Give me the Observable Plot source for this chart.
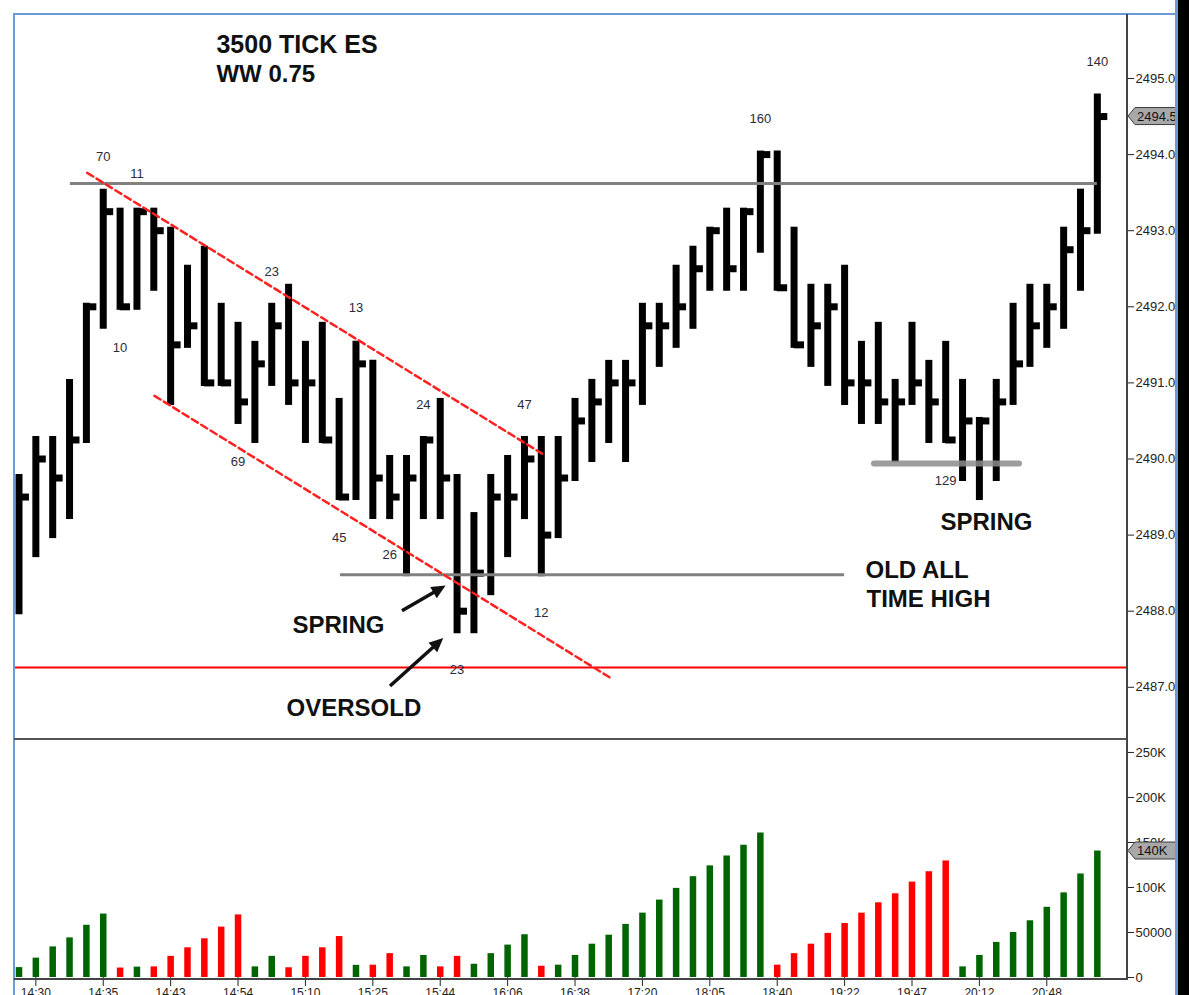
<!DOCTYPE html>
<html><head><meta charset="utf-8">
<script src="https://cdn.jsdelivr.net/npm/d3@7"></script>
<script src="https://cdn.jsdelivr.net/npm/@observablehq/plot@0.6"></script>
<style>
html,body{margin:0;background:#fff;overflow:hidden;}
#wrap{position:relative;width:1189px;height:995px;overflow:hidden;background:#fff;font-family:"Liberation Sans",Arial,sans-serif;}
#wrap svg{position:absolute;left:0;}
.ln{position:absolute;z-index:5;}
</style></head><body><div id="wrap"></div>
<script>
// ---- data (3500 tick ES bars: high / low / close) ----
const high = [2489.75,2490.25,2490.25,2491.0,2492.0,2493.5,2493.25,2493.25,2493.25,2493.0,
  2492.5,2492.75,2492.0,2491.75,2491.5,2492.0,2492.25,2491.5,2491.75,2490.75,
  2491.5,2491.25,2490.0,2490.0,2490.25,2490.75,2489.75,2489.25,2489.75,2490.0,
  2490.25,2490.25,2490.25,2490.75,2491.0,2491.25,2491.25,2492.0,2492.0,2492.5,
  2492.75,2493.0,2493.25,2493.25,2494.0,2494.0,2493.0,2492.25,2492.25,2492.5,
  2491.5,2491.75,2491.0,2491.75,2491.25,2491.5,2491.0,2490.5,2491.0,2492.0,
  2492.25,2492.25,2493.0,2493.5,2494.75];
const low = [2488.0,2488.75,2489.0,2489.25,2490.25,2491.75,2492.0,2492.0,2492.25,2490.75,
  2491.5,2491.0,2491.0,2490.5,2490.25,2491.0,2490.75,2490.25,2490.25,2489.5,
  2489.5,2489.25,2489.25,2488.5,2489.25,2489.25,2487.75,2487.75,2488.25,2488.75,
  2489.25,2488.5,2489.0,2489.75,2490.0,2490.25,2490.0,2490.75,2491.25,2491.5,
  2491.75,2492.25,2492.25,2492.25,2492.75,2492.25,2491.5,2491.25,2491.0,2490.75,
  2490.5,2490.5,2490.0,2490.75,2490.25,2490.25,2489.75,2489.5,2489.75,2490.75,
  2491.25,2491.5,2491.75,2492.25,2493.0];
const close = [2489.5,2490.0,2489.75,2490.25,2492.0,2493.25,2492.0,2493.25,2493.0,2491.5,
  2491.75,2491.0,2491.0,2490.75,2491.25,2491.75,2491.0,2491.0,2490.25,2489.5,
  2491.25,2489.75,2489.5,2489.75,2490.25,2489.75,2488.0,2488.5,2489.5,2489.5,
  2490.0,2489.0,2489.75,2490.5,2490.75,2491.0,2491.0,2491.75,2491.75,2492.0,
  2492.5,2493.0,2492.5,2493.25,2494.0,2492.25,2491.5,2491.75,2492.0,2491.0,
  2491.0,2490.75,2490.75,2491.0,2490.75,2490.25,2490.5,2490.5,2490.75,2491.25,
  2491.75,2492.0,2492.75,2493.0,2494.5];
// cumulative wave volume, thousands
const waveVolumeK = [11,21.5,34,44,58,70.5,10.5,11.5,11.8,23.5,
  33,43,56,69.5,11.8,23.5,10.8,23.5,33,45.5,
  13.5,13.7,26.5,11.8,24.5,11.8,23.5,14.7,26.5,36,
  47.5,12.5,13.7,24.5,37,47,59,71.5,86,99,
  112,124,135,147,160.5,13.7,26.5,37,49,60,
  71.5,83,93,106,117.5,129.5,11.8,24.5,39,50,
  63,78,94,115,140.5];
// wave direction per bar (U = up wave, D = down wave)
const waveDir = [..."UUUUUUDUDDDDDDUUDDDDUDDUUDDUUUUDUUUUUUUUUUUUUDDDDDDDDDDDUUUUUUUUU"];

const priceTicks = [2487,2488,2489,2490,2491,2492,2493,2494,2495];
const volTicks = [0,50000,100000,150000,200000,250000];
const volTickLabels = ["0","50000","100K","150K","200K","250K"];
const timeTickBars = [1,5,9,13,17,21,25,29,33,37,41,45,49,53,57,61];
const timeLabels = ["14:30","14:35","14:43","14:54","15:10","15:25","15:44","16:06","16:38","17:20","18:05","18:40","19:22","19:47","20:12","20:48"];

// wave volume labels (bar index, price position, text)
const waveLabelBar = [5,7,6,15,20,13,19,22,24,30,31,26,44,64,55];
const waveLabelPrice = [2493.92,2493.69,2491.41,2492.41,2491.93,2489.91,2488.91,2488.68,2490.66,2490.66,2487.92,2487.18,2494.42,2495.17,2489.66];
const waveLabelText = ["70","11","10","23","13","69","45","26","24","47","12","23","160","140","129"];

// drawn levels
const resistance = {price: 2493.62, from: 3.05, to: 64.0};
const oldHigh = {price: 2488.48, from: 19.08, to: 49.0};
const springSupport = {price: 2489.94, from: 50.77, to: 59.38};
const redLevel = 2487.26;
const channelUpper = [{i: 4.05, p: 2493.76}, {i: 31.05, p: 2490.07}];
const channelLower = [{i: 8.04, p: 2490.83}, {i: 35.06, p: 2487.13}];
const arrows = [
  {i1: 22.76, p1: 2488.00, i2: 25.35, p2: 2488.33},
  {i1: 22.05, p1: 2487.01, i2: 25.21, p2: 2487.64}
];
const notes = [
  {t: "WW 0.75", i: 11.72, p: 2494.96},
  {t: "SPRING", i: 16.23, p: 2487.72},
  {t: "OVERSOLD", i: 15.88, p: 2486.62},
  {t: "OLD ALL", i: 50.24, p: 2488.43},
  {t: "TIME HIGH", i: 50.30, p: 2488.05},
  {t: "SPRING", i: 54.69, p: 2489.07}
];
const title = {t: "3500 TICK ES", i: 11.72, p: 2495.33};

// ---- build ----
const bars = high.map((h, i) => ({i, high: h, low: low[i], close: close[i], vol: waveVolumeK[i] * 1000, dir: waveDir[i]}));
const waveLabels = waveLabelBar.map((b, k) => ({i: b, p: waveLabelPrice[k], t: waveLabelText[k]}));

const W = 1189, ML = 14, MR = 62;
const xDomain = [-0.267, 65.79];
const priceDomain = [2486.314, 2495.841];
const FONT = "'Liberation Sans', Arial, sans-serif";
const volLabelMap = new Map(volTicks.map((v, k) => [v, volTickLabels[k]]));
const timeLabelMap = new Map(timeTickBars.map((b, k) => [b, timeLabels[k]]));

// price / volume tag on the right axis, placed through the y scale
function tag(value, label) {
  return (index, scales, values, dims) => {
    const y = scales.y(value);
    const x0 = dims.width - dims.marginRight;
    const h = 17, w = 52;
    const g = d3.create("svg:g");
    g.append("path")
      .attr("d", `M${x0 + 1},${y}L${x0 + 8},${y - h / 2}H${x0 + w}V${y + h / 2}H${x0 + 8}Z`)
      .attr("fill", "#a8a8a8").attr("stroke", "#3a3a3a").attr("stroke-width", 1);
    g.append("text").attr("x", x0 + 10).attr("y", y).attr("dy", "0.36em")
      .attr("text-anchor", "start").attr("font-size", 13).attr("fill", "#111")
      .attr("font-family", FONT).text(label);
    return g.node();
  };
}
// filled-head arrows, placed through the x and y scales
function arrowMark(data) {
  return (index, scales) => {
    const g = d3.create("svg:g");
    for (const a of data) {
      const x1 = scales.x(a.i1), y1 = scales.y(a.p1), x2 = scales.x(a.i2), y2 = scales.y(a.p2);
      const ang = Math.atan2(y2 - y1, x2 - x1);
      const L = 14, hw = 6.5;
      const bx = x2 - L * Math.cos(ang), by = y2 - L * Math.sin(ang);
      g.append("line").attr("x1", x1).attr("y1", y1).attr("x2", bx + Math.cos(ang)).attr("y2", by + Math.sin(ang))
        .attr("stroke", "#111").attr("stroke-width", 3.5);
      const px = -Math.sin(ang) * hw, py = Math.cos(ang) * hw;
      g.append("path").attr("d", `M${x2},${y2}L${bx + px},${by + py}L${bx - px},${by - py}Z`).attr("fill", "#111");
    }
    return g.node();
  };
}

const pricePlot = Plot.plot({
  width: W, height: 740, marginLeft: ML, marginRight: MR, marginTop: 14, marginBottom: 1,
  style: {fontFamily: FONT, fontSize: "13px", background: "transparent", color: "#222"},
  x: {domain: xDomain, axis: null},
  y: {domain: priceDomain, axis: null},
  marks: [
    Plot.axisY({anchor: "right", ticks: priceTicks, tickFormat: d3.format(".1f"), tickSize: 6, tickPadding: 2, fontSize: 13, label: null}),
    Plot.ruleY([redLevel], {stroke: "#ff0000", strokeWidth: 2}),
    Plot.ruleX(bars, {x: "i", y1: "low", y2: "high", stroke: "#000", strokeWidth: 7, strokeLinecap: "square"}),
    Plot.ruleY(bars, {y: "close", x1: "i", x2: d => d.i + 0.62, stroke: "#000", strokeWidth: 7}),
    Plot.ruleY([resistance], {y: "price", x1: "from", x2: "to", stroke: "#808080", strokeWidth: 3}),
    Plot.ruleY([oldHigh], {y: "price", x1: "from", x2: "to", stroke: "#808080", strokeWidth: 3}),
    Plot.ruleY([springSupport], {y: "price", x1: "from", x2: "to", stroke: "#8c8c8c", strokeOpacity: 0.85, strokeWidth: 6, strokeLinecap: "round"}),
    Plot.line(channelUpper, {x: "i", y: "p", stroke: "#ff2020", strokeWidth: 2.5, strokeDasharray: "7,4"}),
    Plot.line(channelLower, {x: "i", y: "p", stroke: "#ff2020", strokeWidth: 2.5, strokeDasharray: "7,4"}),
    arrowMark(arrows),
    Plot.text(waveLabels, {x: "i", y: "p", text: "t", lineAnchor: "bottom", fontSize: 13, fill: "#2b2b38"}),
    Plot.text([title], {x: "i", y: "p", text: "t", textAnchor: "start", lineAnchor: "bottom", fontSize: 25, fontWeight: "bold", fill: "#111"}),
    Plot.text(notes, {x: "i", y: "p", text: "t", textAnchor: "start", lineAnchor: "bottom", fontSize: 24, fontWeight: "bold", fill: "#111"}),
    tag(close[close.length - 1], d3.format(".1f")(close[close.length - 1]))
  ]
});

const lastVol = bars[bars.length - 1].vol;
const volPlot = Plot.plot({
  width: W, height: 256, marginLeft: ML, marginRight: MR, marginTop: 0, marginBottom: 18,
  style: {fontFamily: FONT, fontSize: "13px", background: "transparent", color: "#222"},
  x: {domain: xDomain, axis: null},
  y: {domain: [0, 264400], axis: null},
  marks: [
    Plot.axisY({anchor: "right", ticks: volTicks, tickFormat: d => volLabelMap.get(d), tickSize: 6, tickPadding: 2, fontSize: 13, label: null}),
    Plot.axisX({anchor: "bottom", ticks: timeTickBars, tickFormat: d => timeLabelMap.get(d), tickSize: 9, tickPadding: 2, fontSize: 12, label: null}),
    Plot.ruleX(bars, {x: "i", y1: 0, y2: "vol", stroke: d => d.dir === "U" ? "#006400" : "#ff0000", strokeWidth: 6.5}),
    tag(lastVol, Math.floor(lastVol / 1000) + "K")
  ]
});

const wrap = document.getElementById("wrap");
pricePlot.style.top = "0px";
volPlot.style.top = "739px";
wrap.appendChild(pricePlot);
wrap.appendChild(volPlot);

function line(l, t, w, h, c) {
  const d = document.createElement("div");
  d.className = "ln";
  Object.assign(d.style, {left: l + "px", top: t + "px", width: w + "px", height: h + "px", background: c});
  wrap.appendChild(d);
}
line(14, 13, 1164, 2, "#6b9bd6");       // top frame
line(13, 13, 2, 982, "#6b9bd6");        // left frame
line(14, 738, 1113, 2, "#555");         // panel separator
line(1126, 14, 1.5, 966, "#444");       // right axis line
line(14, 978, 1113, 1.5, "#444");       // bottom axis line
line(1175, 0, 3, 995, "#6b9bd6");       // right frame
line(1178, 0, 11, 995, "#000");         // right edge band
</script></body></html>
